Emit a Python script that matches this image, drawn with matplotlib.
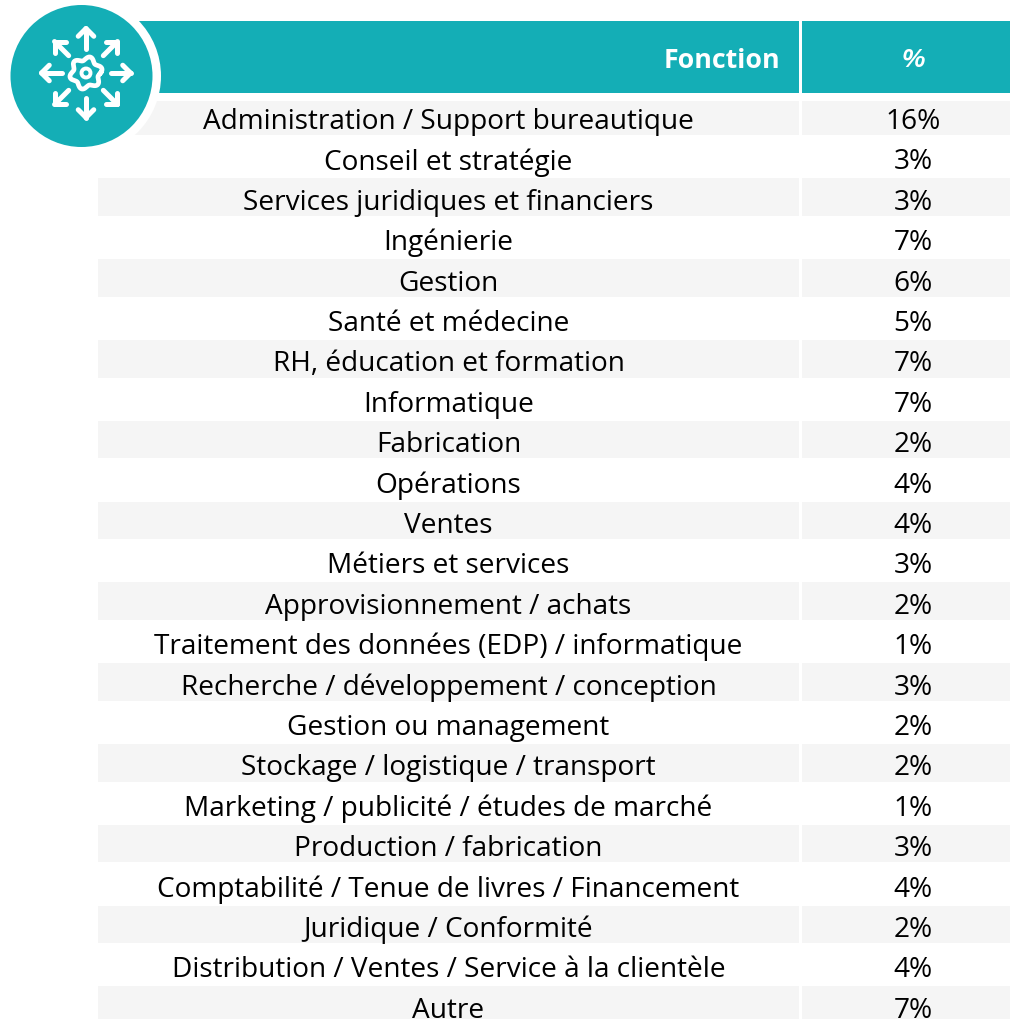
# Description: Table of respondents by function, with teal header and round icon.

# ---------- Imports ----------

import numpy as np
import matplotlib
matplotlib.use('Agg')
import matplotlib.pyplot as plt
from matplotlib.patches import Rectangle, Circle

# ---------- Data ----------

header_labels = ['Fonction', '%']
functions = ['Administration / Support bureautique', 'Conseil et stratégie',
             'Services juridiques et financiers', 'Ingénierie', 'Gestion',
             'Santé et médecine', 'RH, éducation et formation', 'Informatique',
             'Fabrication', 'Opérations', 'Ventes', 'Métiers et services',
             'Approvisionnement / achats', 'Traitement des données (EDP) / informatique',
             'Recherche / développement / conception', 'Gestion ou management',
             'Stockage / logistique / transport', 'Marketing / publicité / études de marché',
             'Production / fabrication', 'Comptabilité / Tenue de livres / Financement',
             'Juridique / Conformité', 'Distribution / Ventes / Service à la clientèle',
             'Autre']
percents = [16, 3, 3, 7, 6, 5, 7, 7, 2, 4, 4, 3, 2, 1, 3, 2, 2, 1, 3, 4, 2, 4, 7]

# ---------- Style ----------

teal = '#14AEB6'
band = '#F5F5F5'
font = 'Open Sans'
W, H = 1010, 1020
row0, pitch = 119, 40.4 # Text centre of first row, row spacing
x1, x2, x3, x4 = 98, 799, 802, 1010 # Column edges
pct_x = 913 # Centre of the % column text

# ---------- Functions ----------

def drawArrow(ax,cx,cy,angle,r0,r1,head,lw): # One icon arrow, pointing outwards
    d = np.array([np.cos(angle),np.sin(angle)])
    c = np.array([cx,cy])
    tail, tip = c+r0*d, c+r1*d
    ax.plot([tail[0],tip[0]],[tail[1],tip[1]],color='white',lw=lw,solid_capstyle='round',zorder=5)
    for s in [-1,1]:
        a = angle+np.pi+s*np.pi/4
        end = tip+head*np.array([np.cos(a),np.sin(a)])
        ax.plot([tip[0],end[0]],[tip[1],end[1]],color='white',lw=lw,solid_capstyle='round',zorder=5)

def drawIcon(ax): # Round badge in the top left corner
    ax.add_patch(Circle((81.5,77),79.5,fc='white',ec='none',zorder=3))
    ax.add_patch(Circle((81.5,77),71,fc=teal,ec='none',zorder=4))
    cx, cy = 86, 74
    theta = np.linspace(0,2*np.pi,200)
    r = 14.5+2*np.cos(6*theta+np.pi/2)
    ax.plot(cx+r*np.cos(theta),cy+r*np.sin(theta),color='white',lw=3.4,zorder=5)
    ax.add_patch(Circle((cx,cy),4.5,fc='none',ec='white',lw=2.8,zorder=5))
    for k in range(8):
        drawArrow(ax,cx,cy,k*np.pi/4,24.5,44.5,11,3.6)

# ---------- Main ----------

fig = plt.figure(figsize=(W/100,H/100),dpi=100)
ax = fig.add_axes([0,0,1,1])
ax.set_xlim(0,W)
ax.set_ylim(H,0)
ax.axis('off')

# Header
ax.add_patch(Rectangle((x1,21.5),x2-x1,72,fc=teal,ec='none'))
ax.add_patch(Rectangle((x3,21.5),x4-x3,72,fc=teal,ec='none'))
ax.text(x2-19,61,header_labels[0],ha='right',va='center',color='white',
        fontsize=19.3,fontweight='bold',family=font,zorder=6)
ax.text(pct_x,60,header_labels[1],ha='center',va='center',color='white',
        fontsize=19,fontweight='bold',style='italic',family='Liberation Sans',zorder=6)

# Rows
for i,(name,val) in enumerate(zip(functions,percents)):
    y = row0+i*pitch
    if i%2 == 0: # Shaded rows
        top = max(y-20.4,101.5)
        bottom = min(y+17.2,H)
        ax.add_patch(Rectangle((x1,top),x2-x1,bottom-top,fc=band,ec='none'))
        ax.add_patch(Rectangle((x3,top),x4-x3,bottom-top,fc=band,ec='none'))
    ax.text((x1+x2)/2,y+3,name,ha='center',va='center',color='black',fontsize=20.2,family=font)
    ax.text(pct_x,y+3,f'{val}%',ha='center',va='center',color='black',fontsize=20.2,family=font)

drawIcon(ax)

fig.savefig('out.png',dpi=100)
